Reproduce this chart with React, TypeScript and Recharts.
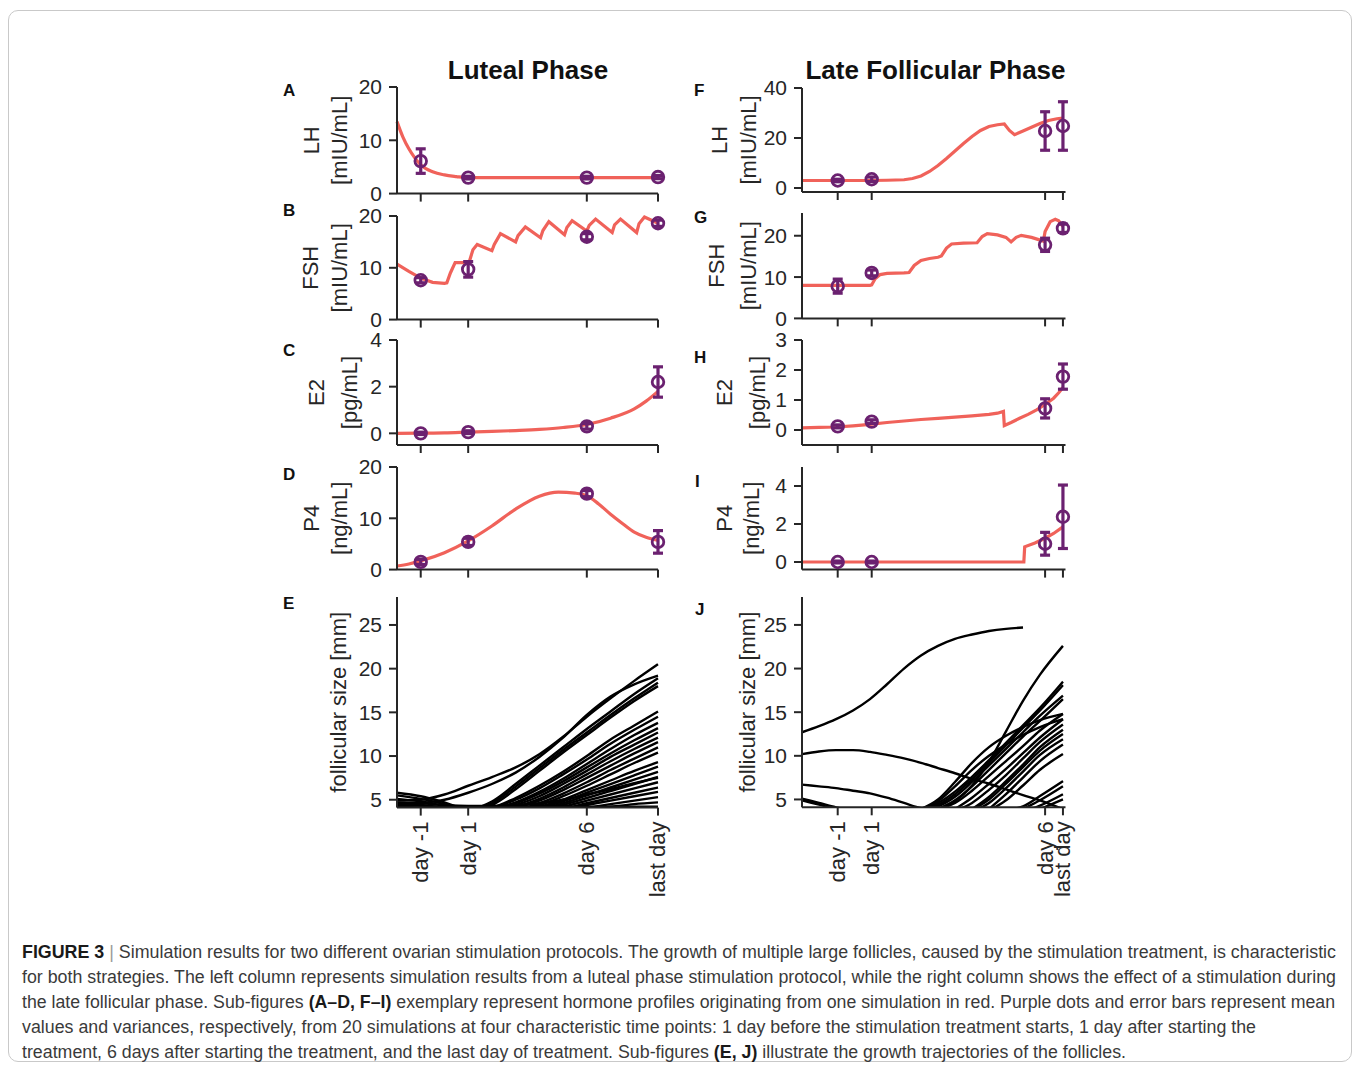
import { ComposedChart, Line, Scatter, ErrorBar, XAxis, YAxis } from 'recharts';

const RED = '#f0625a';
const PURPLE = '#6b2170';
const INK = '#262626';
const FONT = '"Liberation Sans", Arial, Helvetica, sans-serif';
const _ = null;

// time axes
const lutealDomain: [number, number] = [-2, 9];
const lutealTicks = [-1, 1, 6, 9];
const follDomain: [number, number] = [0, 15.5];
const follTicks = [2.1, 4.1, 14.3, 15.35];
const tickNames = ['day -1', 'day 1', 'day 6', 'last day'];

// A: LH, luteal
const lhLutT = [-2, -1.75, -1.5, -1.25, -1, -0.5, 0, 0.5, 1, 3, 6, 9];
const lhLutV = [13.5, 10.6, 8.4, 6.7, 5.4, 4.1, 3.5, 3.2, 3.0, 3.0, 3.0, 3.0];
const lhLutMean = [6.1, 3.0, 3.0, 3.1];
const lhLutErr = [2.3, 0.25, 0.25, 0.3];

// B: FSH, luteal
const fshLutT = [-2, -1.5, -1, -0.5, 0, 0.1, 0.25, 0.45, 1.0, 1.05, 1.2, 1.38, 2.0, 2.1, 2.36, 3.0, 3.1, 3.41, 4.05, 4.15, 4.4, 5.06, 5.16, 5.38, 6.0, 6.1, 6.37, 7.07, 7.17, 7.42, 8.1, 8.2, 8.43, 9.0];
const fshLutV = [10.7, 9.3, 8.0, 7.2, 7.0, 7.1, 9.0, 11.0, 11.0, 11.2, 13.5, 14.5, 13.3, 14.5, 16.6, 15.0, 16.2, 17.9, 15.8, 17.2, 18.9, 16.4, 17.8, 19.1, 17.1, 18.2, 19.4, 16.8, 18.3, 19.4, 16.8, 18.5, 19.8, 18.6];
const fshLutMean = [7.6, 9.7, 16.0, 18.6];
const fshLutErr = [0.5, 1.5, 0.6, 0.6];

// C: E2, luteal
const e2LutT = [-2, -1, 0, 1, 2, 3, 4, 5, 6, 7, 8, 8.5, 9];
const e2LutV = [0, 0.01, 0.02, 0.05, 0.08, 0.12, 0.17, 0.25, 0.38, 0.65, 1.05, 1.38, 1.8];
const e2LutMean = [0.0, 0.05, 0.3, 2.2];
const e2LutErr = [0.05, 0.06, 0.12, 0.65];

// D: P4, luteal
const p4LutT = [-2, -1.5, -1, 0, 1, 2, 3, 4, 4.8, 5.5, 6, 6.5, 7, 7.5, 8, 8.5, 9];
const p4LutV = [0.7, 1.1, 1.7, 3.3, 5.6, 8.5, 11.8, 14.3, 15.1, 14.9, 14.4, 12.8, 10.8, 9.0, 7.3, 6.3, 5.7];
const p4LutMean = [1.5, 5.4, 14.8, 5.4];
const p4LutErr = [0.5, 0.7, 0.6, 2.2];

// E: follicle sizes, luteal
const follLutT = [-2, -1, 0, 1, 2, 3, 4, 5, 6, 7, 8, 9];
const follLut = [
  [4.9, 5.0, 5.6, 6.6, 7.6, 8.7, 10.2, 12.2, 14.5, 16.6, 18.6, 20.5],
  [4.3, 4.6, 5.0, 5.8, 6.8, 8.1, 9.9, 12.1, 14.7, 16.8, 18.2, 19.2],
  [5.8, 5.4, 4.7, 3.9, 4.8, 6.8, 8.9, 11.0, 13.1, 15.1, 17.1, 18.9],
  [5.5, 5.1, 4.5, 3.8, 4.6, 6.5, 8.6, 10.7, 12.7, 14.7, 16.6, 18.4],
  [5.1, 4.8, 4.3, 3.8, 4.4, 6.2, 8.3, 10.4, 12.4, 14.4, 16.3, 18.0],
  [4.6, 4.4, 4.1, 3.8, 4.1, 5.2, 6.6, 8.2, 10.0, 11.9, 13.5, 15.1],
  [4.2, 4.1, 4.0, 3.9, 4.1, 5.0, 6.3, 7.9, 9.6, 11.4, 13.0, 14.5],
  [4.1, 4.1, 4.0, 3.9, 4.0, 4.7, 5.9, 7.4, 9.1, 10.8, 12.4, 13.8],
  [4.0, 4.0, 4.0, 3.9, 4.0, 4.6, 5.7, 7.1, 8.7, 10.3, 11.8, 13.2],
  [3.9, 3.9, 3.9, 3.9, 3.9, 4.4, 5.4, 6.8, 8.3, 9.9, 11.3, 12.7],
  [3.9, 3.9, 3.9, 3.9, 3.9, 4.2, 5.1, 6.4, 7.9, 9.4, 10.8, 12.1],
  [3.9, 3.9, 3.9, 3.9, 3.9, 4.1, 4.9, 6.1, 7.5, 8.9, 10.3, 11.6],
  [3.9, 3.9, 3.9, 3.9, 3.9, 3.9, 4.6, 5.7, 7.0, 8.4, 9.7, 11.0],
  [3.9, 3.9, 3.9, 3.9, 3.9, 3.9, 4.4, 5.4, 6.6, 7.9, 9.2, 10.4],
  [3.9, 3.9, 3.9, 3.9, 3.9, 3.9, 4.2, 5.0, 6.1, 7.2, 8.3, 9.3],
  [3.9, 3.9, 3.9, 3.9, 3.9, 3.9, 4.1, 4.8, 5.8, 6.8, 7.8, 8.8],
  [3.9, 3.9, 3.9, 3.9, 3.9, 3.9, 4.0, 4.6, 5.5, 6.4, 7.3, 8.2],
  [3.9, 3.9, 3.9, 3.9, 3.9, 3.9, 3.9, 4.4, 5.2, 6.0, 6.8, 7.6],
  [3.9, 3.9, 3.9, 3.9, 3.9, 3.9, 3.9, 4.2, 4.9, 5.6, 6.3, 7.0],
  [3.9, 3.9, 3.9, 3.9, 3.9, 3.9, 3.9, 4.0, 4.6, 5.2, 5.8, 6.4],
  [3.9, 3.9, 3.9, 3.9, 3.9, 3.9, 3.9, 3.9, 4.4, 4.9, 5.4, 5.9],
  [3.9, 3.9, 3.9, 3.9, 3.9, 3.9, 3.9, 3.9, 4.1, 4.5, 4.9, 5.3],
  [3.9, 3.9, 3.9, 3.9, 3.9, 3.9, 3.9, 3.9, 3.9, 4.2, 4.5, 4.7],
  [4.4, 4.3, 4.2, 4.2, 4.2, 4.2, 4.2, 4.2, 4.2, 4.2, 4.2, 4.2],
  [4.7, 4.6, 4.4, 4.3, 4.3, 4.4, 4.6, 5.0, 5.6, 6.2, 6.9, 7.5],
];

// F: LH, late follicular
const lhFolT = [0, 2, 4, 5, 6, 6.5, 7, 7.5, 8, 8.5, 9, 9.5, 10, 10.5, 11, 11.5, 11.9, 12.2, 12.5, 13, 13.5, 14, 14.5, 15, 15.35];
const lhFolV = [3.0, 3.0, 3.0, 3.1, 3.3, 3.8, 4.8, 6.6, 9.0, 11.8, 14.8, 17.8, 20.6, 23.0, 24.6, 25.3, 25.6, 23.0, 21.3, 22.8, 24.3, 25.8, 27.0, 27.7, 28.0];
const lhFolMean = [3.0, 3.5, 22.8, 24.8];
const lhFolErr = [0.5, 0.9, 7.7, 9.7];

// G: FSH, late follicular
const fshFolT = [0, 1, 2, 3, 4, 4.1, 4.3, 4.6, 5, 6, 6.3, 6.6, 7, 7.5, 8, 8.2, 8.5, 8.8, 9.5, 10.3, 10.6, 10.9, 11.5, 12, 12.3, 12.6, 12.9, 13.5, 14.2, 14.3, 14.6, 14.9, 15.1, 15.35];
const fshFolV = [8.0, 8.0, 8.0, 8.0, 8.0, 8.1, 9.6, 10.6, 10.9, 11.0, 11.1, 12.8, 14.0, 14.5, 14.8, 15.1, 17.0, 18.0, 18.2, 18.3, 19.8, 20.5, 20.2, 19.6, 18.5, 19.6, 20.1, 19.6, 18.7, 21.0, 23.4, 24.0, 23.6, 22.2];
const fshFolMean = [7.8, 11.0, 17.8, 21.8];
const fshFolErr = [1.7, 0.7, 1.6, 1.0];

// H: E2, late follicular
const e2FolT = [0, 1, 2, 3, 4, 5, 6, 7, 8, 9, 10, 11, 11.5, 11.85, 11.9, 12.3, 12.8, 13.3, 13.8, 14.3, 14.8, 15.1, 15.35];
const e2FolV = [0.07, 0.09, 0.1, 0.14, 0.19, 0.25, 0.3, 0.35, 0.39, 0.43, 0.47, 0.52, 0.56, 0.62, 0.15, 0.25, 0.39, 0.52, 0.67, 0.85, 1.06, 1.24, 1.42];
const e2FolMean = [0.12, 0.28, 0.72, 1.78];
const e2FolErr = [0.05, 0.06, 0.32, 0.42];

// I: P4, late follicular
const p4FolT = [0, 13.05, 13.1, 13.7, 14.3, 14.8, 15.35];
const p4FolV = [0, 0, 0.8, 1.0, 1.25, 1.5, 1.85];
const p4FolMean = [0.0, 0.0, 0.96, 2.38];
const p4FolErr = [0.05, 0.05, 0.6, 1.67];

// J: follicle sizes, late follicular
const follFolT = [0, 1, 2, 3, 4, 5, 6, 7, 8, 9, 10, 11, 12, 13, 14, 15.35];
const follFol = [
  [12.7, 13.4, 14.2, 15.2, 16.5, 18.2, 20.0, 21.5, 22.6, 23.4, 23.9, 24.3, 24.55, 24.7, _, _],
  [10.2, 10.5, 10.65, 10.65, 10.45, 10.1, 9.7, 9.2, 8.6, 8.0, 7.35, 6.8, 6.15, 5.5, 4.9, 3.9],
  [6.7, 6.5, 6.3, 6.0, 5.7, 5.2, 4.6, 4.0, 3.7, _, _, _, _, _, _, _],
  [5.1, 4.6, 4.1, 3.7, _, _, _, _, _, _, _, _, _, _, _, _],
  [4.9, 4.4, 3.9, 3.6, _, _, _, _, _, _, _, _, _, _, _, _],
  [_, _, _, _, _, _, _, 3.9, 4.6, 5.9, 7.6, 9.5, 11.5, 13.5, 15.5, 18.5],
  [_, _, _, _, _, _, _, 3.9, 4.4, 5.6, 7.3, 9.2, 11.2, 13.2, 15.2, 18.1],
  [_, _, _, _, _, _, _, 3.8, 4.2, 5.3, 7.0, 8.9, 10.8, 12.7, 14.6, 16.9],
  [_, _, _, _, _, _, _, _, 3.9, 4.9, 6.5, 8.4, 10.3, 12.2, 14.0, 16.5],
  [_, _, _, _, _, _, _, _, 3.9, 4.8, 6.6, 9.3, 12.8, 16.3, 19.3, 22.6],
  [_, _, _, _, _, _, _, 3.9, 5.0, 7.0, 9.2, 11.0, 12.3, 13.3, 14.1, 14.8],
  [_, _, _, _, _, _, _, 3.9, 4.8, 6.5, 8.4, 10.0, 11.3, 12.4, 13.3, 14.2],
  [_, _, _, _, _, _, _, _, 3.9, 4.6, 6.0, 7.7, 9.4, 11.1, 12.9, 14.8],
  [_, _, _, _, _, _, _, _, _, 3.9, 5.2, 6.8, 8.5, 10.3, 12.1, 14.2],
  [_, _, _, _, _, _, _, _, _, 3.7, 4.6, 6.1, 7.8, 9.7, 11.6, 13.6],
  [_, _, _, _, _, _, _, _, _, _, 3.9, 5.3, 7.1, 9.0, 11.0, 13.0],
  [_, _, _, _, _, _, _, _, _, _, 3.8, 5.0, 6.8, 8.7, 10.6, 12.5],
  [_, _, _, _, _, _, _, _, _, _, 3.6, 4.6, 6.3, 8.2, 10.1, 11.9],
  [_, _, _, _, _, _, _, _, _, _, _, 3.9, 5.6, 7.5, 9.4, 11.3],
  [_, _, _, _, _, _, _, _, _, _, _, 3.7, 4.9, 6.6, 8.4, 10.2],
  [_, _, _, _, _, _, _, _, _, _, _, _, 3.8, 4.2, 5.4, 7.1],
  [_, _, _, _, _, _, _, _, _, _, _, _, _, 3.9, 4.9, 6.5],
  [_, _, _, _, _, _, _, _, _, _, _, _, _, 3.6, 4.3, 5.6],
  [_, _, _, _, _, _, _, _, _, _, _, _, _, _, 3.9, 5.0],
];

type Pt = { t: number; v: number | null; e?: number };
const zip = (ts: number[], vs: (number | null)[]): Pt[] => ts.map((t, i) => ({ t, v: vs[i] }));
const marks = (ts: number[], ms: number[], es: number[]): Pt[] => ts.map((t, i) => ({ t, v: ms[i], e: es[i] }));

const Marker = (p: any) => (
  <circle cx={p.cx} cy={p.cy} r={5.8} fill="none" stroke={PURPLE} strokeWidth={2.8} />
);

function YTitle({ items, cy }: { items: { text: string; x: number }[]; cy: number }) {
  return (
    <g>
      {items.map((it, i) => (
        <text key={i} x={it.x} y={cy} transform={`rotate(-90 ${it.x} ${cy})`} textAnchor="middle"
          dominantBaseline="central" fontSize={22} fontFamily={FONT} fill={INK}>{it.text}</text>
      ))}
    </g>
  );
}

type PanelProps = {
  px: number; py: number; pw: number; ph: number;
  xDomain: [number, number]; xTicks: number[]; names?: boolean;
  yDomain: [number, number]; yTicks: number[];
  titles: string[]; titleX: number[];
  red?: Pt[]; redType?: 'monotone' | 'linear';
  pts?: Pt[]; lines?: Pt[][];
};

function Panel(props: PanelProps) {
  const { px, py, pw, ph, xDomain, xTicks, names, yDomain, yTicks, titles, titleX, red, redType, pts, lines } = props;
  const PADL = 140, PADT = 14, PADR = 16;
  const bottom = names ? 100 : 18;
  const left = px - PADL;
  const top = py - PADT;
  const axisStyle = { stroke: INK, strokeWidth: 2 };
  const nameTick = (p: any) => {
    const i = xTicks.indexOf(p.payload.value);
    return (
      <text x={p.x} y={p.y} transform={`rotate(-90 ${p.x} ${p.y})`} textAnchor="end" dominantBaseline="central"
        fontSize={22} fontFamily={FONT} fill={INK}>{tickNames[i]}</text>
    );
  };
  const items = titles.map((text, i) => ({ text, x: titleX[i] - left }));
  return (
    <div style={{ position: 'absolute', left, top }}>
      <ComposedChart width={pw + PADL + PADR} height={ph + PADT + bottom} margin={{ top: PADT, right: PADR, bottom: 0, left: 0 }}>
        <XAxis type="number" dataKey="t" domain={xDomain} ticks={xTicks} interval={0} height={bottom}
          tickSize={8} tickMargin={6} axisLine={axisStyle} tickLine={axisStyle}
          tick={names ? nameTick : () => <g />} />
        <YAxis type="number" domain={yDomain} ticks={yTicks} interval={0} width={PADL} tickSize={8} tickMargin={7}
          allowDataOverflow={!!lines} axisLine={axisStyle} tickLine={axisStyle}
          tick={{ fill: INK, fontSize: 21, fontFamily: FONT }}
          label={<YTitle items={items} cy={PADT + ph / 2} />} />
        {lines && lines.map((d, i) => (
          <Line key={i} data={d} dataKey="v" type="monotone" stroke="#000" strokeWidth={2.4}
            dot={false} activeDot={false} isAnimationActive={false} />
        ))}
        {red && (
          <Line data={red} dataKey="v" type={redType || 'monotone'} stroke={RED} strokeWidth={3.2}
            dot={false} activeDot={false} isAnimationActive={false} />
        )}
        {pts && (
          <Scatter data={pts} dataKey="v" shape={Marker} isAnimationActive={false}>
            <ErrorBar dataKey="e" direction="y" width={5} strokeWidth={3.2} stroke={PURPLE} />
          </Scatter>
        )}
      </ComposedChart>
    </div>
  );
}

const LX = 396.7, LW = 261;
const RX = 802.3, RW = 263.5;

const letters = [
  ['A', 283, 96], ['B', 283, 216], ['C', 283, 356], ['D', 283, 480], ['E', 283, 609],
  ['F', 694, 96], ['G', 694, 223], ['H', 694, 363], ['I', 695, 487], ['J', 695, 615],
] as const;

export default function App() {
  const lut = { px: LX, pw: LW, xDomain: lutealDomain, xTicks: lutealTicks };
  const fol = { px: RX, pw: RW, xDomain: follDomain, xTicks: follTicks };
  return (
    <div style={{ position: 'absolute', left: 0, top: 0, width: 1356, height: 1066, background: '#fff', fontFamily: FONT }}>
      <div style={{ position: 'absolute', left: 8, top: 10, width: 1342, height: 1050, border: '1px solid #c9c9c9', borderRadius: 10 }} />

      <Panel {...lut} py={86.7} ph={106.6} yDomain={[0, 20]} yTicks={[0, 10, 20]} titles={['LH', '[mIU/mL]']} titleX={[311, 339]}
        red={zip(lhLutT, lhLutV)} pts={marks(lutealTicks, lhLutMean, lhLutErr)} />
      <Panel {...lut} py={215.7} ph={103.6} yDomain={[0, 20]} yTicks={[0, 10, 20]} titles={['FSH', '[mIU/mL]']} titleX={[310, 339]}
        red={zip(fshLutT, fshLutV)} redType="linear" pts={marks(lutealTicks, fshLutMean, fshLutErr)} />
      <Panel {...lut} py={340} ph={105} yDomain={[-0.5, 4]} yTicks={[0, 2, 4]} titles={['E2', '[pg/mL]']} titleX={[316, 349]}
        red={zip(e2LutT, e2LutV)} pts={marks(lutealTicks, e2LutMean, e2LutErr)} />
      <Panel {...lut} py={466.7} ph={102.6} yDomain={[0, 20]} yTicks={[0, 10, 20]} titles={['P4', '[ng/mL]']} titleX={[311, 339]}
        red={zip(p4LutT, p4LutV)} pts={marks(lutealTicks, p4LutMean, p4LutErr)} />
      <Panel {...lut} py={596.7} ph={210.6} names yDomain={[4.1, 28.2]} yTicks={[5, 10, 15, 20, 25]}
        titles={['follicular size [mm]']} titleX={[338]} lines={follLut.map((v) => zip(follLutT, v))} />

      <Panel {...fol} py={87.7} ph={104} yDomain={[-1.6, 40]} yTicks={[0, 20, 40]} titles={['LH', '[mIU/mL]']} titleX={[720, 749]}
        red={zip(lhFolT, lhFolV)} redType="linear" pts={marks(follTicks, lhFolMean, lhFolErr)} />
      <Panel {...fol} py={213.3} ph={105.4} yDomain={[0, 25.5]} yTicks={[0, 10, 20]} titles={['FSH', '[mIU/mL]']} titleX={[717, 749]}
        red={zip(fshFolT, fshFolV)} redType="linear" pts={marks(follTicks, fshFolMean, fshFolErr)} />
      <Panel {...fol} py={340} ph={105} yDomain={[-0.5, 3]} yTicks={[0, 1, 2, 3]} titles={['E2', '[pg/mL]']} titleX={[725, 758]}
        red={zip(e2FolT, e2FolV)} redType="linear" pts={marks(follTicks, e2FolMean, e2FolErr)} />
      <Panel {...fol} py={466.7} ph={102.6} yDomain={[-0.4, 5]} yTicks={[0, 2, 4]} titles={['P4', '[ng/mL]']} titleX={[725, 752]}
        red={zip(p4FolT, p4FolV)} redType="linear" pts={marks(follTicks, p4FolMean, p4FolErr)} />
      <Panel {...fol} py={596.7} ph={210.3} names yDomain={[4.1, 28.2]} yTicks={[5, 10, 15, 20, 25]}
        titles={['follicular size [mm]']} titleX={[748]} lines={follFol.map((v) => zip(follFolT, v))} />

      <svg width={1356} height={1066} style={{ position: 'absolute', left: 0, top: 0, pointerEvents: 'none' }}>
        <text x={528} y={79} textAnchor="middle" fontSize={26} fontWeight="bold" fontFamily={FONT} fill="#111">Luteal Phase</text>
        <text x={935.5} y={79} textAnchor="middle" fontSize={26} fontWeight="bold" fontFamily={FONT} fill="#111">Late Follicular Phase</text>
        {letters.map(([l, x, y]) => (
          <text key={l} x={x} y={y} fontSize={17} fontWeight="bold" fontFamily={FONT} fill="#111">{l}</text>
        ))}
        <g fontSize={17.5} fontFamily={FONT} fill="#3a3a3a">
          <text x={22} y={958} textLength={1314} lengthAdjust="spacingAndGlyphs">
            <tspan fontWeight="bold" fill="#1a1a1a">FIGURE 3</tspan>
            <tspan fill="#9a9a9a">{' | '}</tspan>
            {'Simulation results for two different ovarian stimulation protocols. The growth of multiple large follicles, caused by the stimulation treatment, is characteristic'}
          </text>
          <text x={22} y={983} textLength={1314} lengthAdjust="spacingAndGlyphs">
            for both strategies. The left column represents simulation results from a luteal phase stimulation protocol, while the right column shows the effect of a stimulation during
          </text>
          <text x={22} y={1008} textLength={1313} lengthAdjust="spacingAndGlyphs">
            {'the late follicular phase. Sub-figures '}
            <tspan fontWeight="bold" fill="#1a1a1a">(A–D, F–I)</tspan>
            {' exemplary represent hormone profiles originating from one simulation in red. Purple dots and error bars represent mean'}
          </text>
          <text x={22} y={1033} textLength={1234} lengthAdjust="spacingAndGlyphs">
            values and variances, respectively, from 20 simulations at four characteristic time points: 1 day before the stimulation treatment starts, 1 day after starting the
          </text>
          <text x={22} y={1058} textLength={1104} lengthAdjust="spacingAndGlyphs">
            {'treatment, 6 days after starting the treatment, and the last day of treatment. Sub-figures '}
            <tspan fontWeight="bold" fill="#1a1a1a">(E, J)</tspan>
            {' illustrate the growth trajectories of the follicles.'}
          </text>
        </g>
      </svg>
    </div>
  );
}
